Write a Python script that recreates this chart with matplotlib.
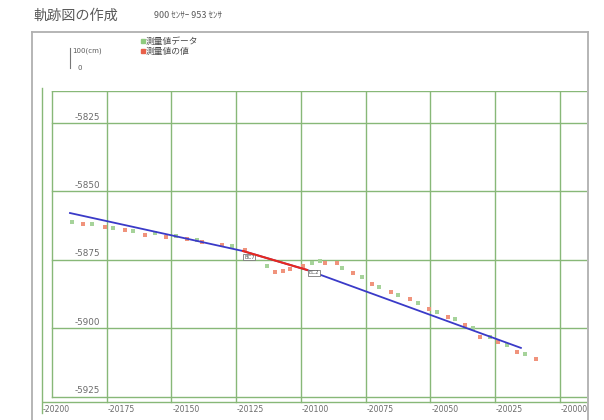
import matplotlib
matplotlib.use("Agg")
import matplotlib.pyplot as plt
from matplotlib.lines import Line2D

plt.rcParams['font.family'] = ['Noto Sans CJK JP', 'DejaVu Sans']

# ---- data ----
title = "軌跡図の作成"
subtitle = "900 ｾﾝｻｰ 953 ｾﾝｻ"
legend_labels = ["測量値データ", "測量値の値"]
scale_labels = ["100(cm)", "0"]

x_ticks = [-20200, -20175, -20150, -20125, -20100, -20075, -20050, -20025, -20000]
x_tick_labels = ["-20200", "-20175", "-20150", "-20125", "-20100", "-20075", "-20050", "-20025", "-20000"]
y_ticks = [-5825, -5850, -5875, -5900, -5925]
y_tick_labels = ["-5825", "-5850", "-5875", "-5900", "-5925"]

blue_x = [-20189.2, -20122.4, -20097.7, -20015.1]
blue_y = [-5857.9, -5871.8, -5878.7, -5907.2]
red_x = [-20122.4, -20097.7]
red_y = [-5871.8, -5878.7]

green_x = [-20188.5, -20180.8, -20172.7, -20164.7, -20156.4, -20148.3, -20140.2, -20126.8,
           -20113.2, -20095.9, -20092.7, -20084.3, -20076.6, -20069.8, -20062.4, -20054.7,
           -20047.4, -20040.5, -20033.5, -20027.0, -20020.6, -20013.5]
green_y = [-5861.1, -5862.0, -5863.3, -5864.4, -5865.2, -5866.3, -5867.8, -5870.0,
           -5877.3, -5876.3, -5875.4, -5877.9, -5881.2, -5884.8, -5887.9, -5890.9,
           -5894.2, -5896.7, -5900.0, -5903.2, -5906.1, -5909.4]
reddot_x = [-20184.3, -20175.7, -20168.0, -20160.2, -20152.1, -20144.1, -20138.3, -20130.6,
            -20121.6, -20110.0, -20106.8, -20104.2, -20099.1, -20090.7, -20086.2, -20079.8,
            -20072.7, -20065.3, -20057.9, -20050.5, -20043.1, -20036.7, -20030.9, -20023.8,
            -20016.7, -20009.3]
reddot_y = [-5861.9, -5862.9, -5864.1, -5865.9, -5866.8, -5867.4, -5868.6, -5869.6,
            -5871.4, -5879.3, -5879.0, -5878.5, -5877.3, -5876.1, -5876.3, -5879.9,
            -5884.0, -5886.7, -5889.4, -5893.1, -5895.8, -5898.8, -5903.3, -5904.9,
            -5908.6, -5911.4]
point_tags = ["BC7", "EC2"]
tag_x = [-20122.0, -20097.0]
tag_y = [-5874.0, -5879.8]

# ---- figure ----
W, H = 604, 420
fig = plt.figure(figsize=(W / 100, H / 100), dpi=100)

def fx(px):
    return px / W

def fy(py):
    return 1 - py / H

# axes in pixel box: left 42, right 587, top 91, bottom 413
ax = fig.add_axes([fx(42), fy(413), (587 - 42) / W, (413 - 91) / H])
ax.set_xlim(-20200, -20200 + 545 / 2.59)
ax.set_ylim(-5825 - 290 / 2.736, -5825 + 32 / 2.736)
ax.axis('off')
x0, x1 = ax.get_xlim()
y0, y1 = ax.get_ylim()

gc = '#88b878'
lw = 1.0
left_border = -20200 + 10 / 2.59
bottom_axis = -5825 - 279 / 2.736
# grid
for xv in x_ticks[1:]:
    ax.plot([xv, xv], [bottom_axis, y1], color=gc, lw=lw, zorder=1)
for yv in y_ticks:
    ax.plot([left_border, x1], [yv, yv], color=gc, lw=lw, zorder=1)
ax.plot([left_border, x1], [y1, y1], color=gc, lw=lw, zorder=1)
ax.plot([left_border, left_border], [y_ticks[-1], y1], color=gc, lw=lw, zorder=1)
ax.plot([x_ticks[0], x_ticks[0]], [y0, y1 + 1], color=gc, lw=lw, zorder=1, clip_on=False)
ax.plot([x_ticks[0], x1], [bottom_axis, bottom_axis], color=gc, lw=lw, zorder=1)

# tick labels
for xv, lab in zip(x_ticks, x_tick_labels):
    ax.text(xv + 0.3, bottom_axis - 1.0, lab, fontsize=5.6, color='#6a6a6a', ha='left', va='top',
            family=['DejaVu Sans'])
for yv, lab in zip(y_ticks, y_tick_labels):
    ax.text(-20177.5, yv + 0.5, lab, fontsize=6.3, color='#6a6a6a', ha='right', va='bottom',
            family=['DejaVu Sans'])

# lines
ax.plot(blue_x, blue_y, color='#3a3ac8', lw=1.3, zorder=3)
ax.plot(red_x, red_y, color='#e8281e', lw=1.5, zorder=4)

# dots
ax.scatter(green_x, green_y, s=6, marker='s', color='#a6d39a', linewidths=0, zorder=2)
ax.scatter(reddot_x, reddot_y, s=6, marker='s', color='#f0937c', linewidths=0, zorder=2)

for tx, ty, t in zip(tag_x, tag_y, point_tags):
    ax.text(tx, ty, t, fontsize=4, color='#555555', ha='left', va='center',
            family=['DejaVu Sans'],
            bbox=dict(boxstyle='square,pad=0.1', fc='white', ec='#777777', lw=0.6))

# outer frame
fc = '#b0b0b0'
fig.add_artist(Line2D([fx(32), fx(32)], [fy(32), fy(420)], color=fc, lw=1.3))
fig.add_artist(Line2D([fx(32), fx(588)], [fy(32), fy(32)], color=fc, lw=1.3))
fig.add_artist(Line2D([fx(588), fx(588)], [fy(32), fy(420)], color=fc, lw=1.3))

# title texts
fig.text(fx(33), fy(16), title, fontsize=10.2, color='#5a5a5a', ha='left', va='center')
fig.text(fx(154), fy(15), subtitle, fontsize=6.5, color='#5a5a5a', ha='left', va='center')

# scale indicator
fig.add_artist(Line2D([fx(70), fx(70)], [fy(48), fy(68)], color='#777777', lw=0.8))
fig.text(fx(72), fy(51), scale_labels[0], fontsize=5, color='#5a5a5a', ha='left', va='center',
         family=['DejaVu Sans'])
fig.text(fx(77), fy(68), scale_labels[1], fontsize=5, color='#5a5a5a', ha='left', va='center',
         family=['DejaVu Sans'])

# legend
fig.add_artist(Line2D([fx(143)], [fy(41)], marker='s', markersize=2.2, color='#8fcb7f', lw=0))
fig.text(fx(146), fy(41), legend_labels[0], fontsize=6.3, color='#4a4a4a', ha='left', va='center')
fig.add_artist(Line2D([fx(143)], [fy(51)], marker='s', markersize=2.2, color='#e8604a', lw=0))
fig.text(fx(146), fy(51), legend_labels[1], fontsize=6.3, color='#4a4a4a', ha='left', va='center')

fig.savefig("out.png", dpi=100)
